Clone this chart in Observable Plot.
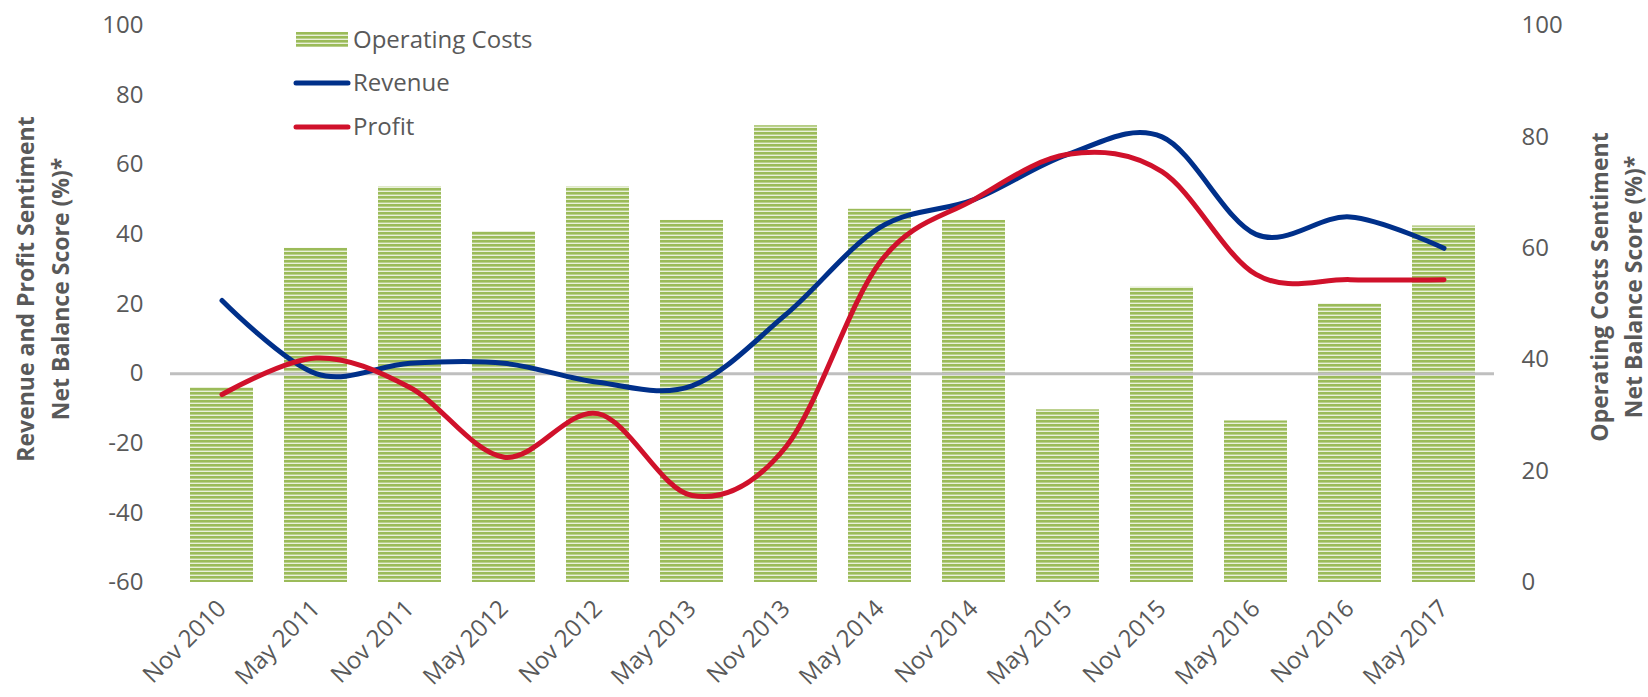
<!DOCTYPE html>
<html>
<head>
<meta charset="utf-8">
<script src="https://cdn.jsdelivr.net/npm/d3@7"></script>
<script src="https://cdn.jsdelivr.net/npm/@observablehq/plot@0.6"></script>
<style>
  html, body { margin: 0; padding: 0; background: #ffffff; }
  #chart { position: relative; width: 1648px; height: 697px; }
</style>
</head>
<body>
<div id="chart"></div>
<script>
// ---- Data ----
const categories = ["Nov 2010","May 2011","Nov 2011","May 2012","Nov 2012","May 2013","Nov 2013","May 2014","Nov 2014","May 2015","Nov 2015","May 2016","Nov 2016","May 2017"];
const operatingCosts = [35, 60, 71, 63, 71, 65, 82, 67, 65, 31, 53, 29, 50, 64]; // right axis (0-100)
const revenue = [21, 0, 3, 3, -2.5, -3.5, 17, 42, 50, 63, 68, 40, 45, 36];        // left axis
const profit = [-6, 4.5, -4, -24, -11.5, -35, -21, 32, 50, 63, 58, 28.5, 27, 27];  // left axis
const leftTicks = [-60, -40, -20, 0, 20, 40, 60, 80, 100];
const rightTicks = [0, 20, 40, 60, 80, 100];
const seriesNames = ["Operating Costs", "Revenue", "Profit"];
const leftTitle = "Revenue and Profit Sentiment\nNet Balance Score (%)*";
const rightTitle = "Operating Costs Sentiment\nNet Balance Score (%)*";

// ---- Dual-axis mapping: right [0,100] -> left [-60,100] ----
const L0 = -60, L1 = 100, R0 = 0, R1 = 100;
const toLeft = v => L0 + (v - R0) * (L1 - L0) / (R1 - R0);
const fromLeft = v => String(Math.round(R0 + (v - L0) * (R1 - R0) / (L1 - L0)));

const rows = categories.map((c, i) => ({cat: c, cost: operatingCosts[i], revenue: revenue[i], profit: profit[i]}));

const textColor = "#595959";
const green = "#9BBB59";
const navy = "#00308A";
const red = "#D0112B";

const plot = Plot.plot({
  width: 1648,
  height: 697,
  marginTop: 25,
  marginBottom: 115,
  marginLeft: 170,
  marginRight: 154,
  style: {fontFamily: "'Open Sans', sans-serif", fontSize: "24px", color: textColor, background: "#ffffff", overflow: "visible"},
  x: {type: "band", domain: categories, paddingInner: 0.334, paddingOuter: 0.167, label: null},
  y: {domain: [L0, L1], label: null},
  marks: [
    Plot.barY(rows, {x: "cat", y1: L0, y2: d => toLeft(d.cost), fill: "url(#ocStripes)"}),
    Plot.ruleY([0], {stroke: "#BFBFBF", strokeWidth: 3}),
    Plot.line(rows, {x: "cat", y: "revenue", curve: "cardinal", stroke: navy, strokeWidth: 5, strokeLinecap: "round"}),
    Plot.line(rows, {x: "cat", y: "profit", curve: "cardinal", stroke: red, strokeWidth: 5, strokeLinecap: "round"}),
    Plot.axisY(leftTicks, {anchor: "left", tickSize: 0, tickPadding: 27, tickFormat: d => String(d), label: null, fontSize: 24}),
    Plot.axisY(rightTicks.map(toLeft), {anchor: "right", tickSize: 0, tickPadding: 27, tickFormat: fromLeft, label: null, fontSize: 24}),
    Plot.axisX({tickRotate: -45, tickSize: 0, tickPadding: 22, label: null, fontSize: 24}),
    Plot.text([leftTitle], {frameAnchor: "left", textAnchor: "middle", lineAnchor: "middle", rotate: -90, dx: -130, dy: -15, fontWeight: "bold", fontSize: 23, lineHeight: 1.5, fill: textColor}),
    Plot.text([rightTitle], {frameAnchor: "right", textAnchor: "middle", lineAnchor: "middle", rotate: -90, dx: 120, dy: -17, fontWeight: "bold", fontSize: 23, lineHeight: 1.47, fill: textColor})
  ]
});

document.getElementById("chart").appendChild(plot);

// ---- Stripe pattern for the bars ----
const svg = d3.select(plot);
const defs = svg.insert("defs", ":first-child");
const pat = defs.append("pattern")
  .attr("id", "ocStripes")
  .attr("patternUnits", "userSpaceOnUse")
  .attr("width", 8).attr("height", 4);
pat.append("rect").attr("width", 8).attr("height", 4).attr("fill", "#E9F0DA");
pat.append("rect").attr("width", 8).attr("height", 2.6).attr("fill", green);

// ---- Legend (top-left inside plot) ----
const lg = svg.append("g")
  .attr("font-family", "'Open Sans', sans-serif")
  .attr("font-size", 24)
  .attr("text-anchor", "start")
  .attr("fill", textColor);
lg.append("rect").attr("x", 296).attr("y", 32).attr("width", 52).attr("height", 15).attr("fill", "url(#ocStripes)");
lg.append("line").attr("x1", 296).attr("x2", 348).attr("y1", 83).attr("y2", 83).attr("stroke", navy).attr("stroke-width", 5).attr("stroke-linecap", "round");
lg.append("line").attr("x1", 296).attr("x2", 348).attr("y1", 127).attr("y2", 127).attr("stroke", red).attr("stroke-width", 5).attr("stroke-linecap", "round");
[39.5, 83, 127].forEach((y, i) => {
  lg.append("text").attr("x", 353).attr("y", y).attr("dy", "0.35em").attr("text-anchor", "start").text(seriesNames[i]);
});
</script>
</body>
</html>
